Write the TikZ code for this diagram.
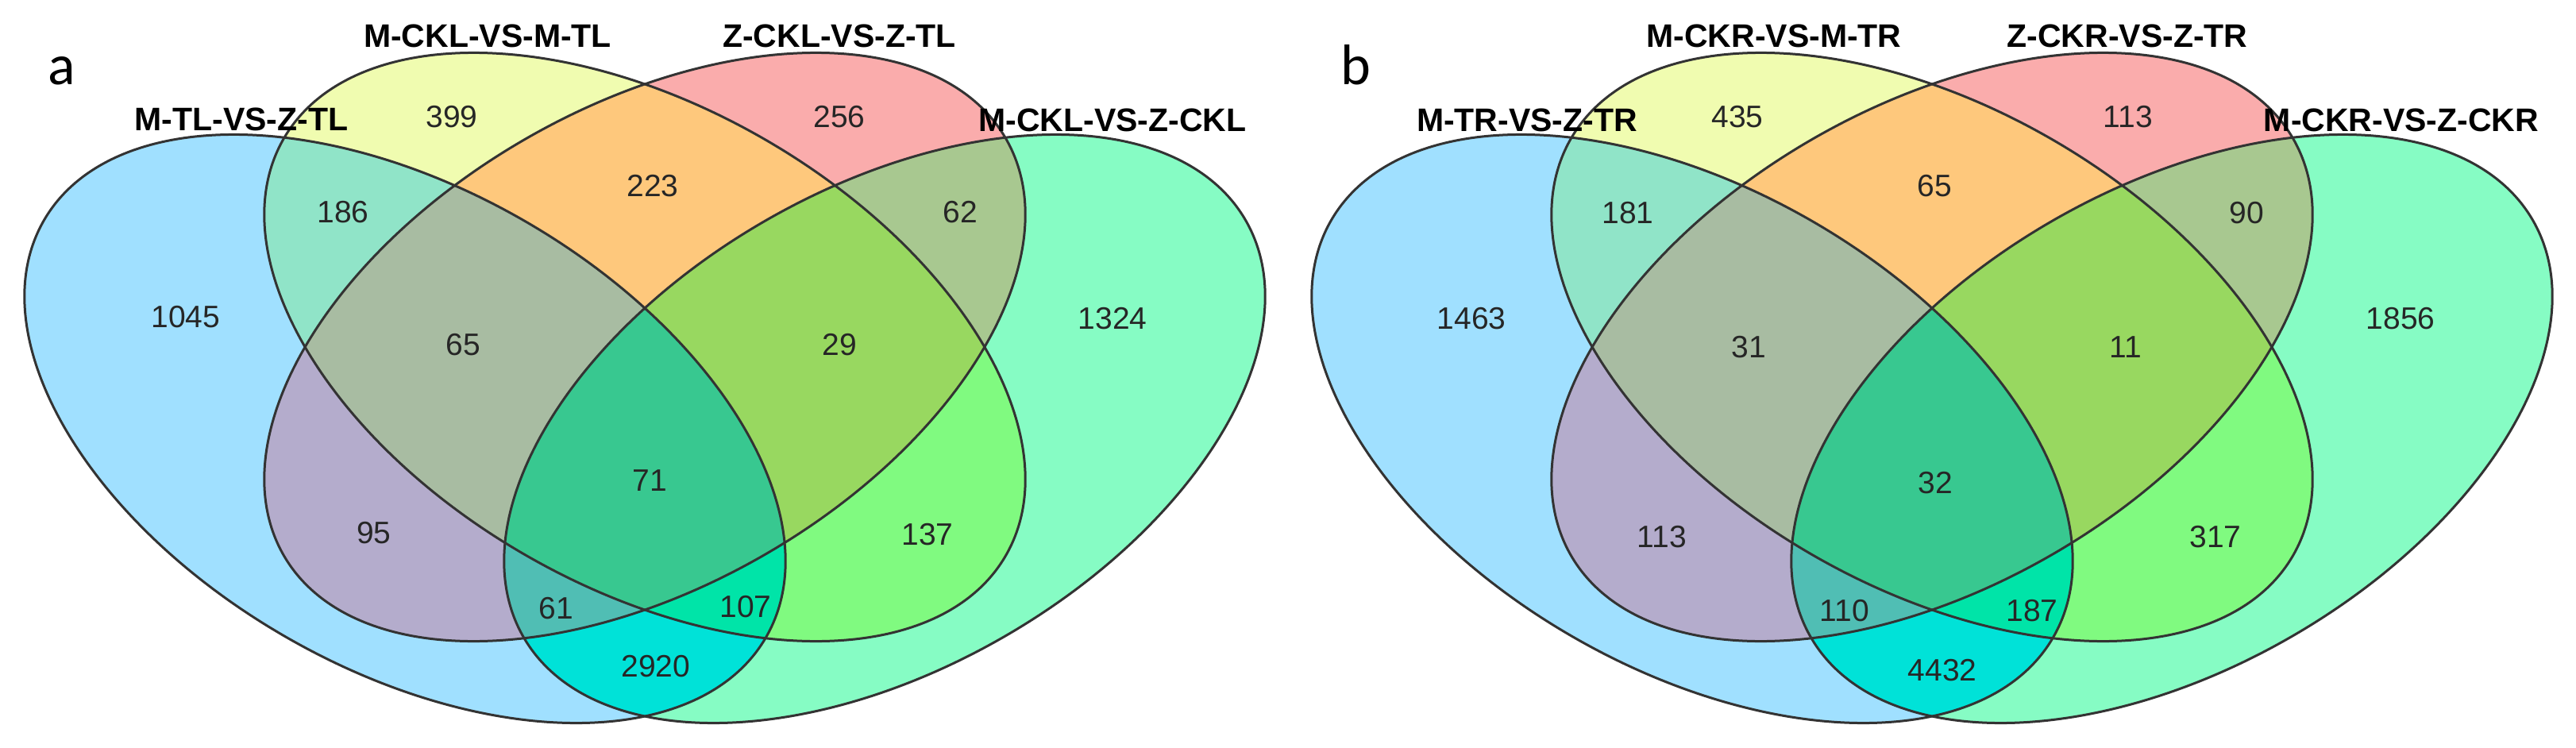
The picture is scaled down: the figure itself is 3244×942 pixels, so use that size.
\documentclass[tikz,border=0pt]{standalone}
\usepackage{fontspec}
\setmainfont{Liberation Sans}
\newfontfamily\panelfont{Carlito}
\definecolor{cA}{HTML}{A0E0FF}
\definecolor{cB}{HTML}{F0FCB0}
\definecolor{cC}{HTML}{FAACAC}
\definecolor{cD}{HTML}{86FCC4}
\definecolor{cAB}{HTML}{90E4C8}
\definecolor{cAC}{HTML}{B4ACCC}
\definecolor{cAD}{HTML}{00E2D8}
\definecolor{cBC}{HTML}{FEC87C}
\definecolor{cBD}{HTML}{80FA80}
\definecolor{cCD}{HTML}{A8C890}
\definecolor{cABC}{HTML}{A8BCA2}
\definecolor{cABD}{HTML}{00E4A8}
\definecolor{cACD}{HTML}{50BEB4}
\definecolor{cBCD}{HTML}{98D860}
\definecolor{cABCD}{HTML}{38C890}
\newcommand\ellA[2]{#1[#2,shift={(510,540)},rotate=-30] (0,0) ellipse [x radius=525pt,y radius=302pt];}
\newcommand\ellB[2]{#1[#2,shift={(812,437)},rotate=-30] (0,0) ellipse [x radius=525pt,y radius=302pt];}
\newcommand\ellC[2]{#1[#2,shift={(812,437)},rotate=30] (0,0) ellipse [x radius=525pt,y radius=302pt];}
\newcommand\ellD[2]{#1[#2,shift={(1114,540)},rotate=30] (0,0) ellipse [x radius=525pt,y radius=302pt];}
\newcommand\vennshapes{%
  \ellA{\fill}{cA}\ellB{\fill}{cB}\ellC{\fill}{cC}\ellD{\fill}{cD}
  \begin{scope}\ellA{\clip}{}\ellB{\fill}{cAB}\end{scope}
  \begin{scope}\ellA{\clip}{}\ellC{\fill}{cAC}\end{scope}
  \begin{scope}\ellA{\clip}{}\ellD{\fill}{cAD}\end{scope}
  \begin{scope}\ellB{\clip}{}\ellC{\fill}{cBC}\end{scope}
  \begin{scope}\ellB{\clip}{}\ellD{\fill}{cBD}\end{scope}
  \begin{scope}\ellC{\clip}{}\ellD{\fill}{cCD}\end{scope}
  \begin{scope}\ellA{\clip}{}\ellB{\clip}{}\ellC{\fill}{cABC}\end{scope}
  \begin{scope}\ellA{\clip}{}\ellB{\clip}{}\ellD{\fill}{cABD}\end{scope}
  \begin{scope}\ellA{\clip}{}\ellC{\clip}{}\ellD{\fill}{cACD}\end{scope}
  \begin{scope}\ellB{\clip}{}\ellC{\clip}{}\ellD{\fill}{cBCD}\end{scope}
  \begin{scope}\ellA{\clip}{}\ellB{\clip}{}\ellC{\clip}{}\ellD{\fill}{cABCD}\end{scope}
  \ellA{\draw}{outline}\ellB{\draw}{outline}\ellC{\draw}{outline}\ellD{\draw}{outline}
}
\tikzset{
  outline/.style={draw=black!80, line width=3pt},
  num/.style={font=\fontsize{39}{40}\selectfont, text=black!85, inner sep=0pt},
  setlabel/.style={font=\fontsize{41}{42}\selectfont\bfseries, text=black, inner sep=0pt},
  panellabel/.style={font=\panelfont\fontsize{72}{72}\selectfont, text=black, inner sep=0pt},
}
\begin{document}
\begin{tikzpicture}[x=1pt,y=-1pt]
\useasboundingbox (0,0) rectangle (3244,942);
\fill[white] (0,0) rectangle (3244,942);
% panel a
\vennshapes
\begin{scope}[xshift=1621pt]
\vennshapes
\end{scope}
% panel a labels
\node[panellabel] (pa) at (78,89) {a};
\node[setlabel] (la1) at (614,45) {M-CKL-VS-M-TL};
\node[setlabel] (la2) at (1057,45) {Z-CKL-VS-Z-TL};
\node[setlabel] (la3) at (304,150) {M-TL-VS-Z-TL};
\node[setlabel] (la4) at (1401,151) {M-CKL-VS-Z-CKL};
\node[num] (aB) at (569,147) {399};
\node[num] (aC) at (1057,147) {256};
\node[num] (aAB) at (432,267) {186};
\node[num] (aBC) at (822,234) {223};
\node[num] (aCD) at (1209,267) {62};
\node[num] (aA) at (234,399) {1045};
\node[num] (aD) at (1401,401) {1324};
\node[num] (aABC) at (583,434) {65};
\node[num] (aBCD) at (1057,434) {29};
\node[num] (aABCD) at (818,605) {71};
\node[num] (aAC) at (471,671) {95};
\node[num] (aBD) at (1168,673) {137};
\node[num] (aACD) at (700,766) {61};
\node[num] (aABD) at (939,764) {107};
\node[num] (aAD) at (826,839) {2920};
% panel b labels
\node[panellabel] (pb) at (1707,82) {b};
\node[setlabel] (lb1) at (2234,45) {M-CKR-VS-M-TR};
\node[setlabel] (lb2) at (2679,45) {Z-CKR-VS-Z-TR};
\node[setlabel] (lb3) at (1923,151) {M-TR-VS-Z-TR};
\node[setlabel] (lb4) at (3024,151) {M-CKR-VS-Z-CKR};
\node[num] (bB) at (2188,147) {435};
\node[num] (bC) at (2680,147) {113};
\node[num] (bAB) at (2050,268) {181};
\node[num] (bBC) at (2436,234) {65};
\node[num] (bCD) at (2829,268) {90};
\node[num] (bA) at (1853,401) {1463};
\node[num] (bD) at (3023,401) {1856};
\node[num] (bABC) at (2202,437) {31};
\node[num] (bBCD) at (2677,437) {11};
\node[num] (bABCD) at (2437,608) {32};
\node[num] (bAC) at (2093,676) {113};
\node[num] (bBD) at (2790,676) {317};
\node[num] (bACD) at (2323,769) {110};
\node[num] (bABD) at (2559,769) {187};
\node[num] (bAD) at (2446,844) {4432};
\end{tikzpicture}
\end{document}
